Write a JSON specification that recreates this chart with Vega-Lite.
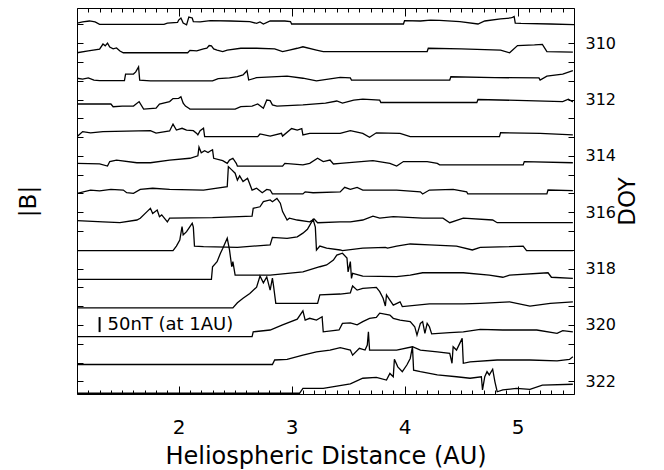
{
"$schema": "https://vega.github.io/schema/vega-lite/v6.json",
"width": 497, "height": 386,
"autosize": {"type": "none"},
"padding": {"left": 77, "top": 8, "right": 90, "bottom": 76},
"config": {"font": "DejaVu Sans", "view": {"stroke": "black", "strokeWidth": 1}, "axis": {"grid": false, "domain": false, "tickColor": "black", "labelColor": "black", "titleColor": "black", "titleFontWeight": "normal", "labelFlush": false, "labelOverlap": false}},
"resolve": {"axis": {"x": "independent", "y": "independent"}},
"layer": [
{
"data": {"values": [
{"doy":309,"r":1.10,"b":13},{"doy":309,"r":1.15,"b":17},{"doy":309,"r":1.21,"b":20},{"doy":309,"r":1.26,"b":17},{"doy":309,"r":1.30,"b":9},{"doy":309,"r":1.87,"b":9},{"doy":309,"r":1.90,"b":13},{"doy":309,"r":1.99,"b":15},{"doy":309,"r":2.00,"b":23},{"doy":309,"r":2.02,"b":30},{"doy":309,"r":2.04,"b":13},{"doy":309,"r":2.07,"b":7},{"doy":309,"r":2.09,"b":33},{"doy":309,"r":2.12,"b":30},{"doy":309,"r":2.13,"b":18},{"doy":309,"r":2.19,"b":17},{"doy":309,"r":2.28,"b":21},{"doy":309,"r":2.46,"b":20},{"doy":309,"r":2.63,"b":18},{"doy":309,"r":2.69,"b":12},{"doy":309,"r":2.72,"b":17},{"doy":309,"r":2.75,"b":10},{"doy":309,"r":2.81,"b":20},{"doy":309,"r":2.94,"b":20},{"doy":309,"r":2.99,"b":18},{"doy":309,"r":3.00,"b":10},{"doy":309,"r":3.99,"b":10},{"doy":309,"r":4.00,"b":21},{"doy":309,"r":4.14,"b":20},{"doy":309,"r":4.23,"b":23},{"doy":309,"r":4.31,"b":22},{"doy":309,"r":4.49,"b":18},{"doy":309,"r":4.65,"b":10},{"doy":309,"r":4.71,"b":20},{"doy":309,"r":4.85,"b":27},{"doy":309,"r":4.94,"b":30},{"doy":309,"r":4.96,"b":33},{"doy":309,"r":4.97,"b":35},{"doy":309,"r":4.98,"b":13},{"doy":309,"r":5.03,"b":12},{"doy":309,"r":5.29,"b":10},{"doy":309,"r":5.50,"b":8},
{"doy":310,"r":1.10,"b":8},{"doy":310,"r":1.20,"b":14},{"doy":310,"r":1.30,"b":20},{"doy":310,"r":1.33,"b":37},{"doy":310,"r":1.35,"b":31},{"doy":310,"r":1.37,"b":40},{"doy":310,"r":1.39,"b":27},{"doy":310,"r":1.42,"b":21},{"doy":310,"r":1.45,"b":24},{"doy":310,"r":1.48,"b":14},{"doy":310,"r":1.51,"b":8},{"doy":310,"r":2.08,"b":8},{"doy":310,"r":2.10,"b":16},{"doy":310,"r":2.16,"b":14},{"doy":310,"r":2.22,"b":21},{"doy":310,"r":2.25,"b":23},{"doy":310,"r":2.27,"b":32},{"doy":310,"r":2.29,"b":31},{"doy":310,"r":2.31,"b":21},{"doy":310,"r":2.34,"b":17},{"doy":310,"r":2.39,"b":12},{"doy":310,"r":2.43,"b":17},{"doy":310,"r":2.55,"b":23},{"doy":310,"r":2.69,"b":23},{"doy":310,"r":2.85,"b":21},{"doy":310,"r":2.92,"b":12},{"doy":310,"r":2.98,"b":17},{"doy":310,"r":3.05,"b":23},{"doy":310,"r":3.10,"b":28},{"doy":310,"r":3.22,"b":17},{"doy":310,"r":3.28,"b":12},{"doy":310,"r":4.20,"b":12},{"doy":310,"r":4.21,"b":23},{"doy":310,"r":4.50,"b":21},{"doy":310,"r":4.85,"b":17},{"doy":310,"r":4.93,"b":8},{"doy":310,"r":5.00,"b":32},{"doy":310,"r":5.15,"b":34},{"doy":310,"r":5.22,"b":36},{"doy":310,"r":5.26,"b":12},{"doy":310,"r":5.49,"b":10},
{"doy":311,"r":1.10,"b":17},{"doy":311,"r":1.15,"b":14},{"doy":311,"r":1.20,"b":18},{"doy":311,"r":1.25,"b":11},{"doy":311,"r":1.30,"b":9},{"doy":311,"r":1.52,"b":9},{"doy":311,"r":1.53,"b":31},{"doy":311,"r":1.60,"b":31},{"doy":311,"r":1.62,"b":38},{"doy":311,"r":1.645,"b":55},{"doy":311,"r":1.655,"b":11},{"doy":311,"r":1.75,"b":8},{"doy":311,"r":2.30,"b":8},{"doy":311,"r":2.35,"b":16},{"doy":311,"r":2.45,"b":18},{"doy":311,"r":2.52,"b":22},{"doy":311,"r":2.57,"b":28},{"doy":311,"r":2.605,"b":42},{"doy":311,"r":2.62,"b":11},{"doy":311,"r":2.69,"b":19},{"doy":311,"r":2.96,"b":24},{"doy":311,"r":3.10,"b":17},{"doy":311,"r":3.22,"b":8},{"doy":311,"r":3.43,"b":20},{"doy":311,"r":3.52,"b":18},{"doy":311,"r":3.53,"b":11},{"doy":311,"r":4.40,"b":11},{"doy":311,"r":4.41,"b":22},{"doy":311,"r":4.80,"b":19},{"doy":311,"r":5.19,"b":18},{"doy":311,"r":5.20,"b":11},{"doy":311,"r":5.26,"b":24},{"doy":311,"r":5.40,"b":31},{"doy":311,"r":5.49,"b":42},
{"doy":312,"r":1.10,"b":25},{"doy":312,"r":1.40,"b":25},{"doy":312,"r":1.42,"b":16},{"doy":312,"r":1.50,"b":18},{"doy":312,"r":1.60,"b":18},{"doy":312,"r":1.65,"b":33},{"doy":312,"r":1.69,"b":8},{"doy":312,"r":1.80,"b":11},{"doy":312,"r":1.83,"b":25},{"doy":312,"r":1.92,"b":33},{"doy":312,"r":1.95,"b":43},{"doy":312,"r":2.00,"b":44},{"doy":312,"r":2.02,"b":49},{"doy":312,"r":2.04,"b":28},{"doy":312,"r":2.06,"b":18},{"doy":312,"r":2.09,"b":11},{"doy":312,"r":2.10,"b":8},{"doy":312,"r":2.50,"b":8},{"doy":312,"r":2.55,"b":16},{"doy":312,"r":2.65,"b":18},{"doy":312,"r":2.70,"b":25},{"doy":312,"r":2.75,"b":11},{"doy":312,"r":2.78,"b":38},{"doy":312,"r":2.81,"b":36},{"doy":312,"r":2.83,"b":22},{"doy":312,"r":2.87,"b":18},{"doy":312,"r":3.10,"b":22},{"doy":312,"r":3.30,"b":28},{"doy":312,"r":3.40,"b":35},{"doy":312,"r":3.45,"b":28},{"doy":312,"r":3.55,"b":38},{"doy":312,"r":3.63,"b":41},{"doy":312,"r":3.78,"b":38},{"doy":312,"r":3.79,"b":30},{"doy":312,"r":4.64,"b":30},{"doy":312,"r":4.65,"b":40},{"doy":312,"r":5.00,"b":37},{"doy":312,"r":5.40,"b":33},{"doy":312,"r":5.45,"b":41},{"doy":312,"r":5.49,"b":32},
{"doy":313,"r":1.10,"b":10},{"doy":313,"r":1.15,"b":27},{"doy":313,"r":1.22,"b":23},{"doy":313,"r":1.33,"b":27},{"doy":313,"r":1.75,"b":30},{"doy":313,"r":1.80,"b":22},{"doy":313,"r":1.92,"b":29},{"doy":313,"r":1.95,"b":52},{"doy":313,"r":1.98,"b":32},{"doy":313,"r":2.03,"b":38},{"doy":313,"r":2.07,"b":32},{"doy":313,"r":2.13,"b":30},{"doy":313,"r":2.16,"b":21},{"doy":313,"r":2.17,"b":16},{"doy":313,"r":2.19,"b":30},{"doy":313,"r":2.22,"b":38},{"doy":313,"r":2.23,"b":10},{"doy":313,"r":2.70,"b":10},{"doy":313,"r":2.72,"b":19},{"doy":313,"r":2.81,"b":12},{"doy":313,"r":2.91,"b":21},{"doy":313,"r":2.92,"b":12},{"doy":313,"r":3.00,"b":37},{"doy":313,"r":3.05,"b":32},{"doy":313,"r":3.09,"b":37},{"doy":313,"r":3.10,"b":16},{"doy":313,"r":3.16,"b":21},{"doy":313,"r":3.43,"b":21},{"doy":313,"r":3.52,"b":30},{"doy":313,"r":3.63,"b":21},{"doy":313,"r":3.69,"b":8},{"doy":313,"r":3.75,"b":23},{"doy":313,"r":3.96,"b":21},{"doy":313,"r":4.05,"b":10},{"doy":313,"r":4.84,"b":10},{"doy":313,"r":4.85,"b":23},{"doy":313,"r":5.20,"b":21},{"doy":313,"r":5.49,"b":16},
{"doy":314,"r":1.10,"b":15},{"doy":314,"r":1.30,"b":13},{"doy":314,"r":1.37,"b":6},{"doy":314,"r":1.39,"b":21},{"doy":314,"r":1.45,"b":26},{"doy":314,"r":1.63,"b":17},{"doy":314,"r":1.75,"b":17},{"doy":314,"r":1.92,"b":26},{"doy":314,"r":2.10,"b":32},{"doy":314,"r":2.17,"b":40},{"doy":314,"r":2.18,"b":69},{"doy":314,"r":2.20,"b":50},{"doy":314,"r":2.23,"b":57},{"doy":314,"r":2.26,"b":51},{"doy":314,"r":2.28,"b":56},{"doy":314,"r":2.30,"b":60},{"doy":314,"r":2.31,"b":32},{"doy":314,"r":2.39,"b":24},{"doy":314,"r":2.43,"b":15},{"doy":314,"r":2.45,"b":26},{"doy":314,"r":2.48,"b":32},{"doy":314,"r":2.51,"b":15},{"doy":314,"r":2.52,"b":6},{"doy":314,"r":2.92,"b":6},{"doy":314,"r":2.94,"b":15},{"doy":314,"r":3.10,"b":10},{"doy":314,"r":3.16,"b":15},{"doy":314,"r":3.23,"b":32},{"doy":314,"r":3.28,"b":21},{"doy":314,"r":3.34,"b":26},{"doy":314,"r":3.37,"b":13},{"doy":314,"r":3.43,"b":15},{"doy":314,"r":3.72,"b":24},{"doy":314,"r":3.87,"b":15},{"doy":314,"r":3.93,"b":6},{"doy":314,"r":3.99,"b":21},{"doy":314,"r":4.20,"b":21},{"doy":314,"r":4.29,"b":15},{"doy":314,"r":4.31,"b":10},{"doy":314,"r":5.05,"b":10},{"doy":314,"r":5.06,"b":21},{"doy":314,"r":5.49,"b":17},
{"doy":315,"r":1.10,"b":9},{"doy":315,"r":1.22,"b":20},{"doy":315,"r":1.30,"b":17},{"doy":315,"r":1.40,"b":22},{"doy":315,"r":1.51,"b":20},{"doy":315,"r":1.54,"b":11},{"doy":315,"r":1.60,"b":9},{"doy":315,"r":1.66,"b":22},{"doy":315,"r":1.77,"b":26},{"doy":315,"r":1.92,"b":22},{"doy":315,"r":2.22,"b":20},{"doy":315,"r":2.43,"b":31},{"doy":315,"r":2.44,"b":98},{"doy":315,"r":2.47,"b":87},{"doy":315,"r":2.50,"b":76},{"doy":315,"r":2.52,"b":53},{"doy":315,"r":2.54,"b":67},{"doy":315,"r":2.57,"b":48},{"doy":315,"r":2.61,"b":59},{"doy":315,"r":2.65,"b":20},{"doy":315,"r":2.69,"b":26},{"doy":315,"r":2.74,"b":11},{"doy":315,"r":2.78,"b":22},{"doy":315,"r":2.81,"b":20},{"doy":315,"r":2.83,"b":7},{"doy":315,"r":3.10,"b":7},{"doy":315,"r":3.12,"b":14},{"doy":315,"r":3.19,"b":11},{"doy":315,"r":3.43,"b":14},{"doy":315,"r":3.47,"b":29},{"doy":315,"r":3.52,"b":22},{"doy":315,"r":3.58,"b":29},{"doy":315,"r":3.63,"b":20},{"doy":315,"r":3.93,"b":20},{"doy":315,"r":4.14,"b":14},{"doy":315,"r":4.16,"b":7},{"doy":315,"r":4.22,"b":20},{"doy":315,"r":4.43,"b":22},{"doy":315,"r":4.55,"b":14},{"doy":315,"r":4.56,"b":7},{"doy":315,"r":5.26,"b":7},{"doy":315,"r":5.27,"b":20},{"doy":315,"r":5.49,"b":18},
{"doy":316,"r":1.10,"b":12},{"doy":316,"r":1.33,"b":8},{"doy":316,"r":1.48,"b":5},{"doy":316,"r":1.63,"b":14},{"doy":316,"r":1.66,"b":20},{"doy":316,"r":1.72,"b":42},{"doy":316,"r":1.75,"b":53},{"doy":316,"r":1.77,"b":36},{"doy":316,"r":1.81,"b":47},{"doy":316,"r":1.83,"b":25},{"doy":316,"r":1.85,"b":31},{"doy":316,"r":1.90,"b":8},{"doy":316,"r":1.92,"b":20},{"doy":316,"r":2.30,"b":22},{"doy":316,"r":2.65,"b":27},{"doy":316,"r":2.66,"b":53},{"doy":316,"r":2.72,"b":58},{"doy":316,"r":2.75,"b":75},{"doy":316,"r":2.81,"b":81},{"doy":316,"r":2.83,"b":75},{"doy":316,"r":2.87,"b":86},{"doy":316,"r":2.90,"b":70},{"doy":316,"r":2.92,"b":42},{"doy":316,"r":2.96,"b":14},{"doy":316,"r":2.98,"b":20},{"doy":316,"r":3.05,"b":14},{"doy":316,"r":3.16,"b":8},{"doy":316,"r":3.20,"b":17},{"doy":316,"r":3.23,"b":5},{"doy":316,"r":3.43,"b":8},{"doy":316,"r":3.52,"b":8},{"doy":316,"r":3.63,"b":14},{"doy":316,"r":3.72,"b":27},{"doy":316,"r":3.78,"b":20},{"doy":316,"r":3.90,"b":25},{"doy":316,"r":4.16,"b":20},{"doy":316,"r":4.34,"b":20},{"doy":316,"r":4.40,"b":5},{"doy":316,"r":4.52,"b":20},{"doy":316,"r":4.78,"b":14},{"doy":316,"r":4.82,"b":5},{"doy":316,"r":5.49,"b":5},
{"doy":317,"r":1.10,"b":6},{"doy":317,"r":1.95,"b":6},{"doy":317,"r":1.98,"b":21},{"doy":317,"r":2.01,"b":41},{"doy":317,"r":2.03,"b":86},{"doy":317,"r":2.04,"b":58},{"doy":317,"r":2.07,"b":69},{"doy":317,"r":2.10,"b":86},{"doy":317,"r":2.12,"b":97},{"doy":317,"r":2.13,"b":84},{"doy":317,"r":2.14,"b":21},{"doy":317,"r":2.22,"b":19},{"doy":317,"r":2.52,"b":17},{"doy":317,"r":2.81,"b":25},{"doy":317,"r":2.83,"b":50},{"doy":317,"r":2.96,"b":47},{"doy":317,"r":3.05,"b":52},{"doy":317,"r":3.10,"b":64},{"doy":317,"r":3.14,"b":77},{"doy":317,"r":3.19,"b":110},{"doy":317,"r":3.21,"b":84},{"doy":317,"r":3.22,"b":8},{"doy":317,"r":3.25,"b":21},{"doy":317,"r":3.31,"b":14},{"doy":317,"r":3.43,"b":8},{"doy":317,"r":3.45,"b":6},{"doy":317,"r":3.63,"b":14},{"doy":317,"r":3.83,"b":17},{"doy":317,"r":3.85,"b":14},{"doy":317,"r":3.93,"b":21},{"doy":317,"r":4.05,"b":28},{"doy":317,"r":4.22,"b":25},{"doy":317,"r":4.46,"b":21},{"doy":317,"r":4.60,"b":8},{"doy":317,"r":4.67,"b":17},{"doy":317,"r":4.93,"b":19},{"doy":317,"r":5.05,"b":21},{"doy":317,"r":5.08,"b":6},{"doy":317,"r":5.49,"b":6},
{"doy":318,"r":1.10,"b":4},{"doy":318,"r":2.29,"b":4},{"doy":318,"r":2.30,"b":46},{"doy":318,"r":2.34,"b":63},{"doy":318,"r":2.37,"b":91},{"doy":318,"r":2.39,"b":107},{"doy":318,"r":2.43,"b":141},{"doy":318,"r":2.45,"b":102},{"doy":318,"r":2.47,"b":46},{"doy":318,"r":2.48,"b":63},{"doy":318,"r":2.50,"b":18},{"doy":318,"r":2.81,"b":18},{"doy":318,"r":3.10,"b":29},{"doy":318,"r":3.25,"b":46},{"doy":318,"r":3.31,"b":52},{"doy":318,"r":3.37,"b":68},{"doy":318,"r":3.40,"b":85},{"doy":318,"r":3.45,"b":91},{"doy":318,"r":3.49,"b":75},{"doy":318,"r":3.50,"b":29},{"doy":318,"r":3.52,"b":63},{"doy":318,"r":3.53,"b":7},{"doy":318,"r":3.54,"b":24},{"doy":318,"r":3.63,"b":15},{"doy":318,"r":3.93,"b":13},{"doy":318,"r":4.05,"b":18},{"doy":318,"r":4.16,"b":26},{"doy":318,"r":4.52,"b":26},{"doy":318,"r":4.75,"b":18},{"doy":318,"r":4.87,"b":11},{"doy":318,"r":4.93,"b":18},{"doy":318,"r":5.27,"b":26},{"doy":318,"r":5.30,"b":11},{"doy":318,"r":5.49,"b":7},
{"doy":319,"r":1.10,"b":3},{"doy":319,"r":2.48,"b":3},{"doy":319,"r":2.52,"b":20},{"doy":319,"r":2.57,"b":35},{"doy":319,"r":2.63,"b":51},{"doy":319,"r":2.69,"b":72},{"doy":319,"r":2.72,"b":109},{"doy":319,"r":2.75,"b":86},{"doy":319,"r":2.78,"b":106},{"doy":319,"r":2.81,"b":62},{"doy":319,"r":2.83,"b":102},{"doy":319,"r":2.84,"b":76},{"doy":319,"r":2.86,"b":18},{"doy":319,"r":3.23,"b":18},{"doy":319,"r":3.25,"b":46},{"doy":319,"r":3.43,"b":49},{"doy":319,"r":3.52,"b":53},{"doy":319,"r":3.54,"b":76},{"doy":319,"r":3.58,"b":62},{"doy":319,"r":3.63,"b":68},{"doy":319,"r":3.75,"b":71},{"doy":319,"r":3.78,"b":57},{"doy":319,"r":3.81,"b":35},{"doy":319,"r":3.83,"b":9},{"doy":319,"r":3.84,"b":46},{"doy":319,"r":3.87,"b":29},{"doy":319,"r":3.90,"b":12},{"doy":319,"r":3.96,"b":23},{"doy":319,"r":3.98,"b":7},{"doy":319,"r":4.22,"b":16},{"doy":319,"r":4.52,"b":16},{"doy":319,"r":4.67,"b":18},{"doy":319,"r":4.93,"b":23},{"doy":319,"r":5.11,"b":9},{"doy":319,"r":5.29,"b":18},{"doy":319,"r":5.49,"b":23},
{"doy":320,"r":1.10,"b":1},{"doy":320,"r":2.65,"b":1},{"doy":320,"r":2.66,"b":17},{"doy":320,"r":2.81,"b":23},{"doy":320,"r":2.92,"b":40},{"doy":320,"r":3.05,"b":59},{"doy":320,"r":3.10,"b":87},{"doy":320,"r":3.12,"b":56},{"doy":320,"r":3.16,"b":62},{"doy":320,"r":3.22,"b":56},{"doy":320,"r":3.27,"b":67},{"doy":320,"r":3.28,"b":17},{"doy":320,"r":3.42,"b":23},{"doy":320,"r":3.45,"b":45},{"doy":320,"r":3.52,"b":47},{"doy":320,"r":3.58,"b":40},{"doy":320,"r":3.63,"b":51},{"doy":320,"r":3.69,"b":62},{"doy":320,"r":3.75,"b":65},{"doy":320,"r":3.78,"b":79},{"doy":320,"r":3.87,"b":73},{"doy":320,"r":3.90,"b":62},{"doy":320,"r":3.96,"b":56},{"doy":320,"r":4.05,"b":51},{"doy":320,"r":4.09,"b":34},{"doy":320,"r":4.11,"b":6},{"doy":320,"r":4.14,"b":45},{"doy":320,"r":4.16,"b":51},{"doy":320,"r":4.18,"b":12},{"doy":320,"r":4.20,"b":45},{"doy":320,"r":4.22,"b":34},{"doy":320,"r":4.24,"b":10},{"doy":320,"r":4.40,"b":14},{"doy":320,"r":4.52,"b":17},{"doy":320,"r":4.67,"b":25},{"doy":320,"r":4.87,"b":23},{"doy":320,"r":5.17,"b":23},{"doy":320,"r":5.35,"b":12},{"doy":320,"r":5.40,"b":21},{"doy":320,"r":5.49,"b":17},
{"doy":321,"r":1.10,"b":2},{"doy":321,"r":2.83,"b":2},{"doy":321,"r":2.85,"b":17},{"doy":321,"r":2.96,"b":19},{"doy":321,"r":3.10,"b":33},{"doy":321,"r":3.22,"b":44},{"doy":321,"r":3.34,"b":50},{"doy":321,"r":3.43,"b":58},{"doy":321,"r":3.52,"b":50},{"doy":321,"r":3.54,"b":33},{"doy":321,"r":3.60,"b":56},{"doy":321,"r":3.65,"b":50},{"doy":321,"r":3.67,"b":67},{"doy":321,"r":3.68,"b":111},{"doy":321,"r":3.69,"b":50},{"doy":321,"r":3.93,"b":50},{"doy":321,"r":4.07,"b":61},{"doy":321,"r":4.14,"b":50},{"doy":321,"r":4.29,"b":44},{"doy":321,"r":4.40,"b":39},{"doy":321,"r":4.42,"b":6},{"doy":321,"r":4.43,"b":61},{"doy":321,"r":4.46,"b":50},{"doy":321,"r":4.51,"b":89},{"doy":321,"r":4.52,"b":6},{"doy":321,"r":4.58,"b":11},{"doy":321,"r":4.82,"b":17},{"doy":321,"r":5.11,"b":17},{"doy":321,"r":5.35,"b":14},{"doy":321,"r":5.46,"b":19},{"doy":321,"r":5.49,"b":28},
{"doy":322,"r":1.10,"b":0},{"doy":322,"r":3.07,"b":0},{"doy":322,"r":3.10,"b":16},{"doy":322,"r":3.28,"b":16},{"doy":322,"r":3.40,"b":24},{"doy":322,"r":3.52,"b":31},{"doy":322,"r":3.63,"b":50},{"doy":322,"r":3.75,"b":53},{"doy":322,"r":3.84,"b":44},{"doy":322,"r":3.87,"b":66},{"doy":322,"r":3.90,"b":55},{"doy":322,"r":3.91,"b":113},{"doy":322,"r":3.94,"b":88},{"doy":322,"r":3.98,"b":72},{"doy":322,"r":4.02,"b":94},{"doy":322,"r":4.05,"b":116},{"doy":322,"r":4.07,"b":155},{"doy":322,"r":4.08,"b":77},{"doy":322,"r":4.14,"b":72},{"doy":322,"r":4.29,"b":61},{"doy":322,"r":4.46,"b":55},{"doy":322,"r":4.58,"b":50},{"doy":322,"r":4.68,"b":55},{"doy":322,"r":4.69,"b":11},{"doy":322,"r":4.71,"b":55},{"doy":322,"r":4.73,"b":72},{"doy":322,"r":4.75,"b":61},{"doy":322,"r":4.78,"b":80},{"doy":322,"r":4.80,"b":38},{"doy":322,"r":4.82,"b":5},{"doy":322,"r":4.87,"b":11},{"doy":322,"r":4.99,"b":16},{"doy":322,"r":5.11,"b":13},{"doy":322,"r":5.22,"b":27},{"doy":322,"r":5.49,"b":30}
]},
"transform": [{"calculate": "datum.doy + 0.424 - datum.b/93.8", "as": "ypos"}],
"mark": {"type": "line", "color": "black", "strokeWidth": 1.3, "clip": true},
"encoding": {
"x": {"field": "r", "type": "quantitative", "scale": {"domain": [1.1, 5.5], "nice": false, "zero": false},
"axis": {"orient": "bottom", "values": [1.1,1.2,1.3,1.4,1.5,1.6,1.7,1.8,1.9,2,2.1,2.2,2.3,2.4,2.5,2.6,2.7,2.8,2.9,3,3.1,3.2,3.3,3.4,3.5,3.6,3.7,3.8,3.9,4,4.1,4.2,4.3,4.4,4.5,4.6,4.7,4.8,4.9,5,5.1,5.2,5.3,5.4,5.5],
"labelExpr": "datum.value % 1 === 0 ? format(datum.value, 'd') : ''",
"tickSize": {"condition": {"test": "datum.value % 1 === 0", "value": -8}, "value": -4},
"labelFontSize": 20, "labelPadding": 31, "title": "Heliospheric Distance (AU)", "titleFontSize": 24, "titleBaseline": "alphabetic", "titleY": 69}},
"y": {"field": "ypos", "type": "quantitative", "scale": {"domain": [308.75, 322.45], "reverse": true, "nice": false, "zero": false},
"axis": {"orient": "right", "values": [309.3333,310,310.6667,311.3333,312,312.6667,313.3333,314,314.6667,315.3333,316,316.6667,317.3333,318,318.6667,319.3333,320,320.6667,321.3333,322],
"labelExpr": "datum.value % 2 === 0 ? format(datum.value, 'd') : ''",
"tickSize": -6, "labelPadding": 17, "labelFontSize": 16, "labelAlign": "left", "labelBaseline": "middle",
"title": "DOY", "titleFontSize": 23, "titleAngle": 270, "titlePadding": 24}},
"detail": {"field": "doy", "type": "nominal"}
}
},
{
"data": {"values": [{"r": 1.3, "doy": 320, "nT": 50}]},
"transform": [{"calculate": "datum.doy - 0.28", "as": "lo"}, {"calculate": "datum.doy - 0.28 + datum.nT/93.8", "as": "hi"}],
"mark": {"type": "rule", "color": "black", "strokeWidth": 2},
"encoding": {
"x": {"field": "r", "type": "quantitative",
"axis": {"orient": "top", "values": [1.1,1.2,1.3,1.4,1.5,1.6,1.7,1.8,1.9,2,2.1,2.2,2.3,2.4,2.5,2.6,2.7,2.8,2.9,3,3.1,3.2,3.3,3.4,3.5,3.6,3.7,3.8,3.9,4,4.1,4.2,4.3,4.4,4.5,4.6,4.7,4.8,4.9,5,5.1,5.2,5.3,5.4,5.5],
"labels": false, "title": null,
"tickSize": {"condition": {"test": "datum.value % 1 === 0", "value": -8}, "value": -4}}},
"y": {"field": "lo", "type": "quantitative",
"axis": {"orient": "left", "values": [309.3333,310,310.6667,311.3333,312,312.6667,313.3333,314,314.6667,315.3333,316,316.6667,317.3333,318,318.6667,319.3333,320,320.6667,321.3333,322],
"labels": false, "tickSize": -6, "title": "|B|", "titleFontSize": 23, "titlePadding": 36}},
"y2": {"field": "hi"}
}
},
{
"data": {"values": [{"r": 1.37, "doy": 320, "label": "50nT (at 1AU)"}]},
"mark": {"type": "text", "align": "left", "baseline": "middle", "fontSize": 18, "color": "black"},
"encoding": {
"x": {"field": "r", "type": "quantitative", "axis": null},
"y": {"field": "doy", "type": "quantitative", "axis": null},
"text": {"field": "label"}
}
}
]
}
